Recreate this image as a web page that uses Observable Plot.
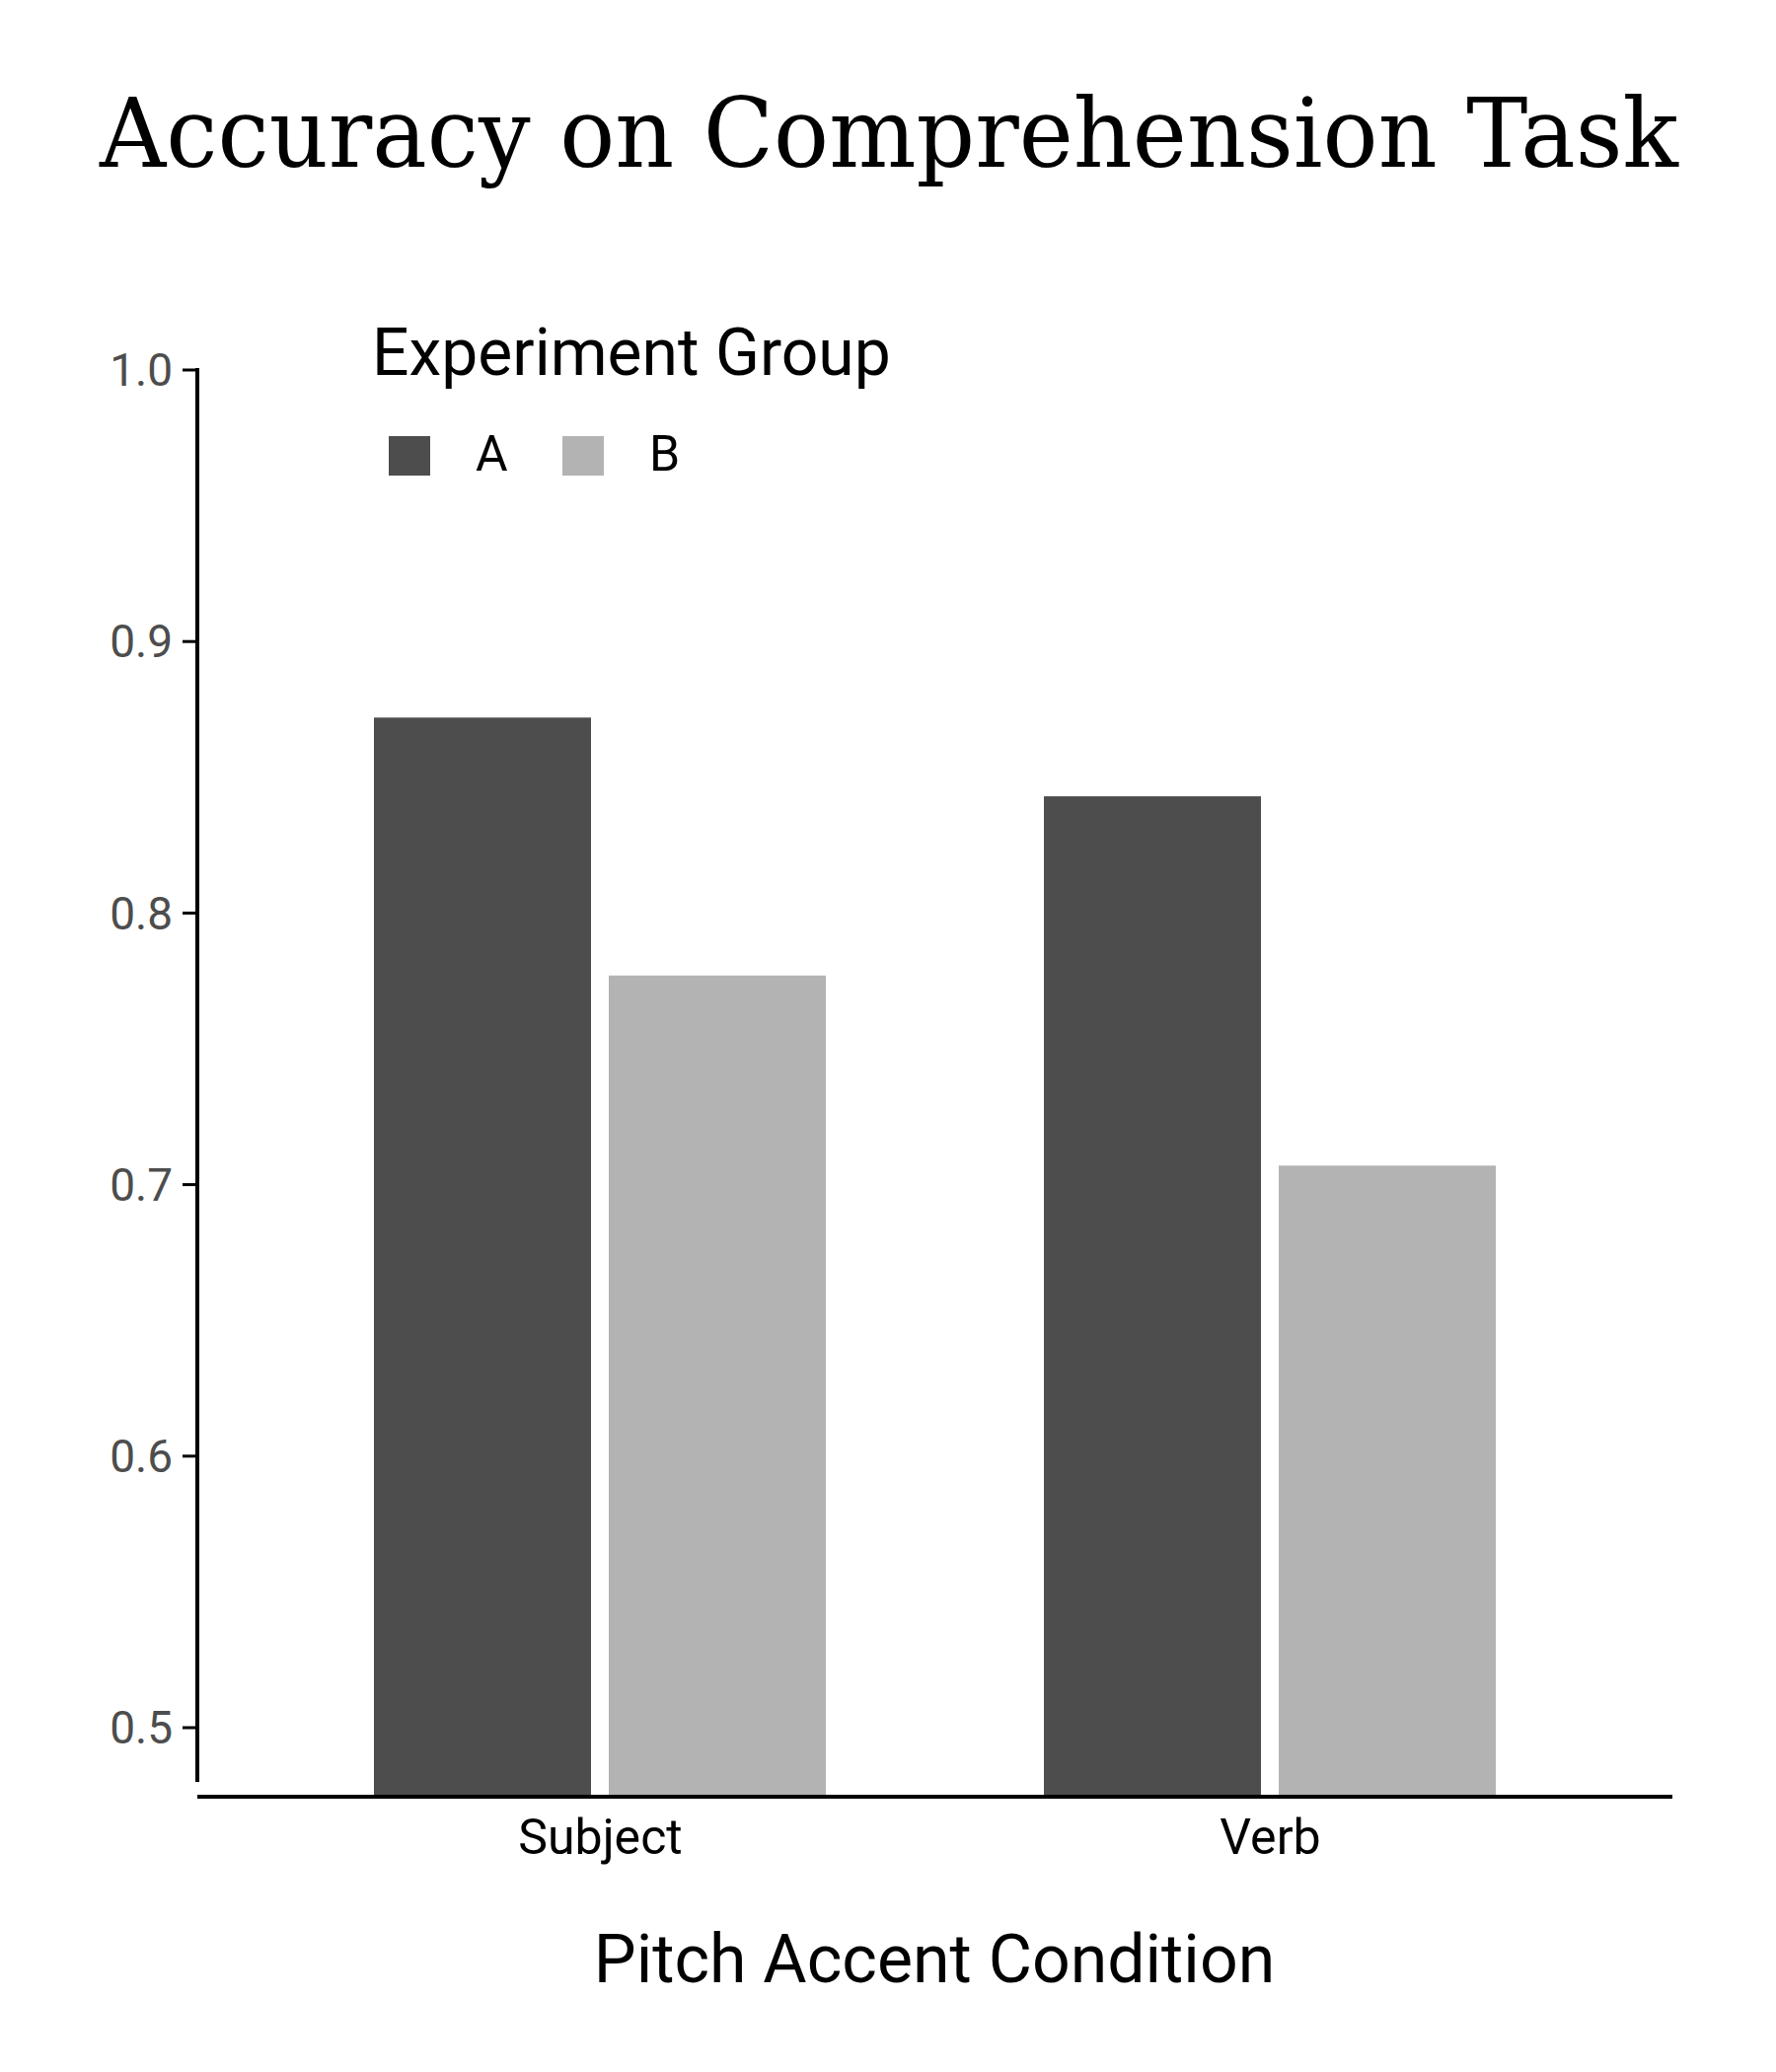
<!DOCTYPE html>
<html>
<head>
<meta charset="utf-8">
<script src="https://cdn.jsdelivr.net/npm/d3@7"></script>
<script src="https://cdn.jsdelivr.net/npm/@observablehq/plot@0.6"></script>
<style>
  body { margin: 0; background: white; }
  #wrap { position: relative; width: 1800px; height: 2100px; font-family: Roboto, sans-serif; }
  .abs { position: absolute; white-space: nowrap; }
</style>
</head>
<body>
<div id="wrap"></div>
<script>
const conditions = ["Subject", "Verb"];
const groups = ["A", "B"];
const accuracyA = [0.872, 0.843];
const accuracyB = [0.777, 0.707];
const groupColors = ["#4d4d4d", "#b3b3b3"];
const yTicks = [0.5, 0.6, 0.7, 0.8, 0.9, 1.0];

let rows = [];
conditions.forEach((c, i) => {
  rows.push({condition: c, group: "A", acc: accuracyA[i]});
  rows.push({condition: c, group: "B", acc: accuracyB[i]});
});

let wrap = d3.select("#wrap");

let plot = Plot.plot({
  width: 1800,
  height: 2100,
  marginLeft: 200,
  marginRight: 105,
  marginTop: 375,
  marginBottom: 281,
  style: {fontFamily: "Roboto, sans-serif", background: "white"},
  fx: {domain: conditions, paddingInner: 0.3255, paddingOuter: 0.2625, label: null},
  x: {domain: groups, paddingInner: 0.076, paddingOuter: 0, axis: null},
  y: {domain: [0.4753, 1.0], axis: null},
  color: {domain: groups, range: groupColors},
  marks: [
    Plot.barY(rows, {fx: "condition", x: "group", y: "acc", fill: "group", clip: true}),
    Plot.axisFx({anchor: "bottom", tickSize: 0, tickPadding: 24, fontSize: 50,
      fill: "black", label: null})
  ]
});

// y axis drawn at the panel's left edge, from the plot's y scale
let svg = d3.select(plot);
let y = plot.scale("y");
let yAxis = svg.append("g");
yTicks.forEach(v => {
  let py = y.apply(v);
  yAxis.append("line")
    .attr("x1", 185).attr("x2", 200).attr("y1", py).attr("y2", py)
    .attr("stroke", "black").attr("stroke-width", 3);
  yAxis.append("text")
    .attr("x", 175).attr("y", py).attr("dy", "0.35em")
    .attr("text-anchor", "end")
    .attr("font-family", "Roboto, sans-serif").attr("font-size", 46)
    .attr("fill", "#4d4d4d")
    .text(d3.format(".1f")(v));
});
yAxis.append("line")
  .attr("x1", 200).attr("x2", 200)
  .attr("y1", y.apply(1.0) - 2).attr("y2", 1806)
  .attr("stroke", "black").attr("stroke-width", 4);
yAxis.append("line")
  .attr("x1", 200).attr("x2", 1695)
  .attr("y1", 1821).attr("y2", 1821)
  .attr("stroke", "black").attr("stroke-width", 4);

wrap.node().append(plot);
d3.select(plot).style("position", "absolute").style("left", "0px").style("top", "0px");

// title
let t = wrap.append("svg").attr("class", "abs")
  .style("left", "0px").style("top", "0px")
  .attr("width", 1800).attr("height", 220);
t.append("text")
  .attr("x", 101).attr("y", 169)
  .attr("font-family", "DejaVu Serif, serif")
  .attr("font-size", 98)
  .attr("textLength", 1600)
  .attr("lengthAdjust", "spacingAndGlyphs")
  .text("Accuracy on Comprehension Task");

// legend
wrap.append("div").attr("class", "abs")
  .style("left", "377px").style("top", "318px")
  .style("font-size", "66px").style("line-height", "80px")
  .text("Experiment Group");
const swX = [394, 570];
groups.forEach((g, i) => {
  wrap.append("div").attr("class", "abs")
    .style("left", swX[i] + "px").style("top", "442px")
    .style("width", "42px").style("height", "40px")
    .style("background", groupColors[i]);
  wrap.append("div").attr("class", "abs")
    .style("left", (swX[i] + 88) + "px").style("top", "430px")
    .style("font-size", "50px").style("line-height", "60px")
    .text(g);
});

// x axis title
wrap.append("div").attr("class", "abs")
  .style("left", "0px").style("width", "1894px").style("text-align", "center")
  .style("top", "1946px").style("font-size", "68px").style("line-height", "80px")
  .text("Pitch Accent Condition");
</script>
</body>
</html>
